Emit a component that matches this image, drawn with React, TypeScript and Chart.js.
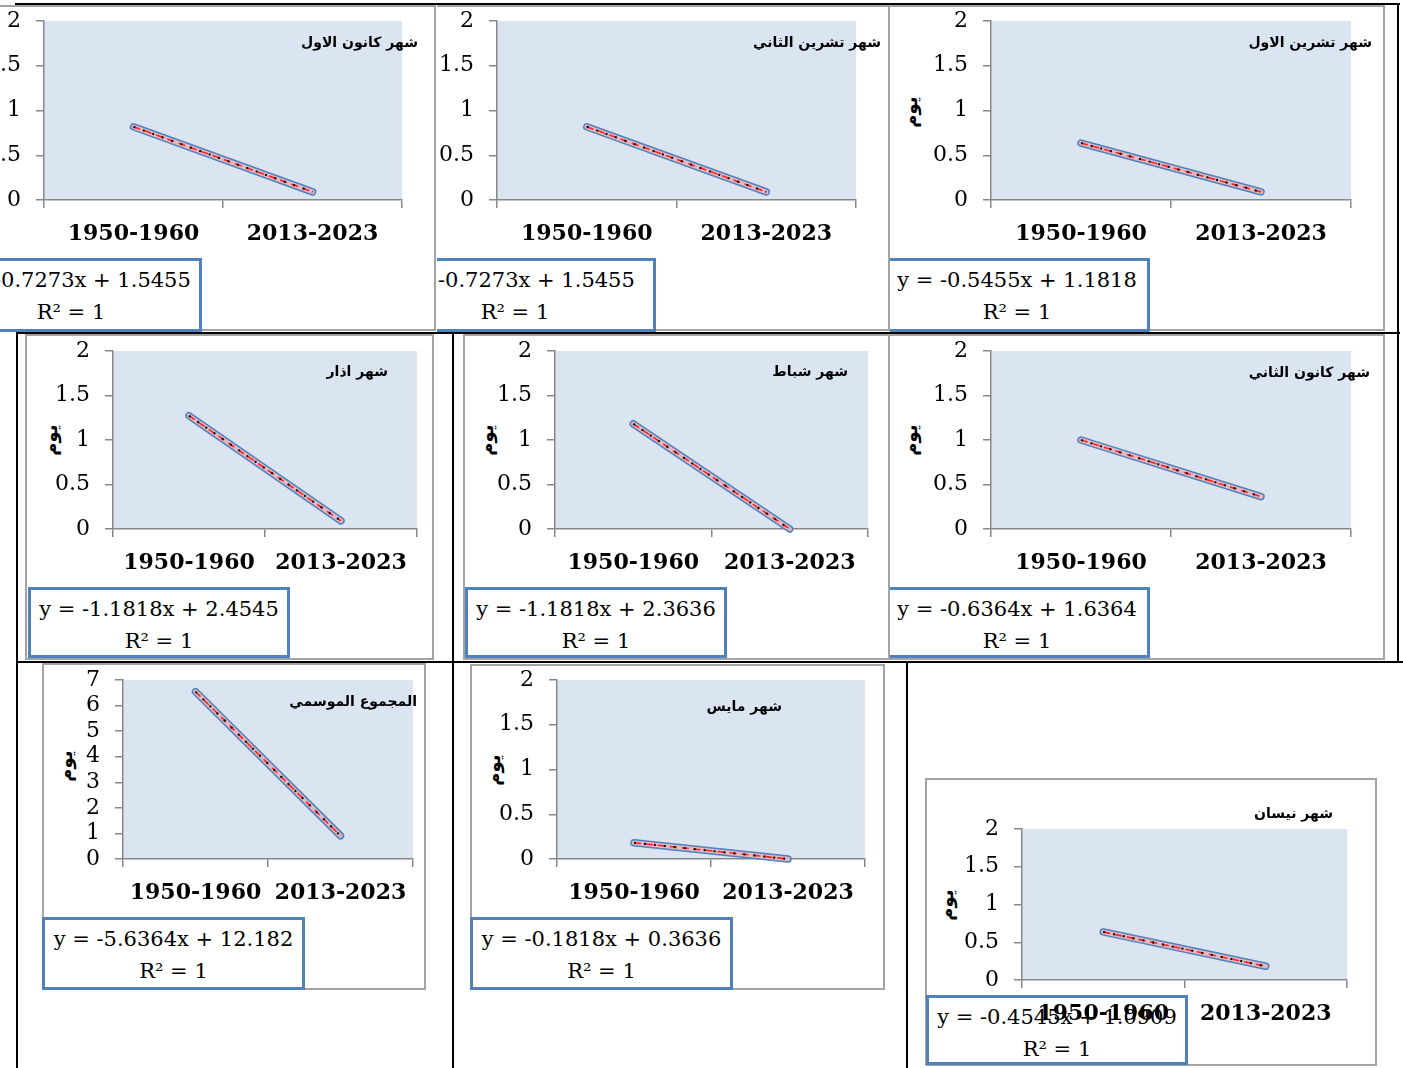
import React, { useEffect, useRef } from 'react';
import { Chart, registerables } from 'chart.js';

Chart.register(...registerables);

// ---------- data ----------
const CATEGORIES = ['1950-1960', '2013-2023'];
const DEC_VALUES = [0.8182, 0.0909];
const NOV_VALUES = [0.8182, 0.0909];
const OCT_VALUES = [0.6363, 0.0908];
const MAR_VALUES = [1.2727, 0.0909];
const FEB_VALUES = [1.1818, 0.0];
const JAN_VALUES = [1.0, 0.3636];
const SEASON_VALUES = [6.5456, 0.9092];
const MAY_VALUES = [0.1818, 0.0];
const APR_VALUES = [0.6364, 0.1819];

const Y_MONTH_TICKS = [0, 0.5, 1, 1.5, 2];
const Y_SEASON_TICKS = [0, 1, 2, 3, 4, 5, 6, 7];

const Y_LABEL = 'يوم';

// ---------- layout (page coords) ----------
type Box = [number, number, number, number];
interface Cfg {
  values: number[];
  yTicks: number[];
  title: string;
  eq: string;
  clip: Box; // x, y, w, h
  frame: Box; // l, t, r, b
  plot: Box; // l, t, r, b
  eqBox: Box; // l, t, r, b
  titleAt: [number, number];
  yLabelAt: [number, number] | null;
}

const CHARTS: Cfg[] = [
  { values: DEC_VALUES, yTicks: Y_MONTH_TICKS, title: 'شهر كانون الاول', eq: 'y = -0.7273x + 1.5455',
    clip: [0, 4, 437, 328], frame: [-60, 5, 436, 331], plot: [44, 21, 402, 200], eqBox: [-60, 258, 202, 332], titleAt: [418, 42], yLabelAt: null },
  { values: NOV_VALUES, yTicks: Y_MONTH_TICKS, title: 'شهر تشرين الثاني', eq: 'y = -0.7273x + 1.5455',
    clip: [437, 4, 454, 328], frame: [380, 5, 890, 331], plot: [497, 21, 856, 200], eqBox: [374, 258, 656, 332], titleAt: [881, 42], yLabelAt: null },
  { values: OCT_VALUES, yTicks: Y_MONTH_TICKS, title: 'شهر تشرين الاول', eq: 'y = -0.5455x + 1.1818',
    clip: [890, 4, 508, 328], frame: [884, 5, 1385, 331], plot: [991, 21, 1351, 200], eqBox: [884, 258, 1150, 332], titleAt: [1372, 42], yLabelAt: [911, 112] },
  { values: MAR_VALUES, yTicks: Y_MONTH_TICKS, title: 'شهر اذار', eq: 'y = -1.1818x + 2.4545',
    clip: [18, 333, 435, 329], frame: [25, 334, 434, 660], plot: [113, 351, 417, 529], eqBox: [28, 587, 290, 658], titleAt: [388, 371], yLabelAt: [51, 440] },
  { values: FEB_VALUES, yTicks: Y_MONTH_TICKS, title: 'شهر شباط', eq: 'y = -1.1818x + 2.3636',
    clip: [454, 333, 436, 329], frame: [463, 334, 890, 660], plot: [555, 351, 868, 529], eqBox: [465, 587, 727, 658], titleAt: [848, 371], yLabelAt: [487, 440] },
  { values: JAN_VALUES, yTicks: Y_MONTH_TICKS, title: 'شهر كانون الثاني', eq: 'y = -0.6364x + 1.6364',
    clip: [890, 333, 508, 329], frame: [884, 334, 1385, 660], plot: [991, 351, 1351, 529], eqBox: [884, 587, 1150, 658], titleAt: [1370, 372], yLabelAt: [911, 440] },
  { values: SEASON_VALUES, yTicks: Y_SEASON_TICKS, title: 'المجموع الموسمي', eq: 'y = -5.6364x + 12.182',
    clip: [18, 663, 435, 405], frame: [42, 663, 426, 990], plot: [123, 680, 413, 859], eqBox: [42, 917, 305, 990], titleAt: [417, 701], yLabelAt: [66, 766] },
  { values: MAY_VALUES, yTicks: Y_MONTH_TICKS, title: 'شهر مايس', eq: 'y = -0.1818x + 0.3636',
    clip: [454, 663, 453, 405], frame: [470, 664, 885, 990], plot: [557, 680, 865, 859], eqBox: [470, 917, 733, 990], titleAt: [782, 706], yLabelAt: [494, 770] },
  { values: APR_VALUES, yTicks: Y_MONTH_TICKS, title: 'شهر نيسان', eq: 'y = -0.4545x + 1.0909',
    clip: [908, 663, 495, 405], frame: [925, 778, 1377, 1066], plot: [1022, 829, 1347, 980], eqBox: [926, 995, 1188, 1065], titleAt: [1333, 813], yLabelAt: [947, 905] },
];

// table black lines: [x, y, w, h]
const TABLE_LINES: Box[] = [
  [15, 3, 1385, 2],
  [17, 332, 1383, 2],
  [17, 661, 1386, 2],
  [16, 332, 2, 736],
  [452, 332, 2, 736],
  [906, 661, 2, 407],
  [1397, 3, 2, 660],
];

const AXIS_COLOR = '#878787';
const PLOT_BG = '#dbe5f1';
const Y_AXIS_W = 100;
const TOP_PAD = 32;
const RIGHT_PAD = 20;
const X_AXIS_H = 64;

const plotBg = {
  id: 'plotBg',
  beforeDraw(chart: any) {
    const { ctx, chartArea: a } = chart;
    ctx.save();
    ctx.fillStyle = PLOT_BG;
    ctx.fillRect(a.left, a.top, a.right - a.left, a.bottom - a.top);
    ctx.restore();
  },
};

function MiniChart({ cfg }: { cfg: Cfg }) {
  const ref = useRef<HTMLCanvasElement | null>(null);
  const [pl, pt, pr, pb] = cfg.plot;
  const cw = pr - pl + Y_AXIS_W + RIGHT_PAD;
  const ch = pb - pt + TOP_PAD + X_AXIS_H;

  useEffect(() => {
    if (!ref.current) return;
    const v = cfg.values;
    const ticks = cfg.yTicks;
    const line = (color: string, width: number, dash: number[], cap: string) => ({
      data: v,
      borderColor: color,
      borderWidth: width,
      borderDash: dash,
      borderCapStyle: cap,
      pointRadius: 0,
      fill: false,
      clip: false as any,
      tension: 0,
    });
    const chart = new Chart(ref.current, {
      type: 'line',
      data: {
        labels: CATEGORIES,
        datasets: [
          line('#000000', 2, [2, 8], 'butt'),
          line('#ff2020', 1.6, [7, 5], 'butt'),
          line('#e2b9c2', 4.5, [], 'round'),
          line('#4f81bd', 7.5, [], 'round'),
        ] as any,
      },
      options: {
        animation: false,
        responsive: false,
        devicePixelRatio: 1,
        layout: { padding: { top: TOP_PAD, right: RIGHT_PAD, left: 0, bottom: 0 } },
        plugins: { legend: { display: false }, tooltip: { enabled: false }, title: { display: false } },
        scales: {
          x: {
            type: 'category',
            offset: true,
            grid: { offset: true, drawOnChartArea: false, drawTicks: true, tickLength: 8, color: AXIS_COLOR, lineWidth: 1.5 },
            border: { color: AXIS_COLOR, width: 1.5 },
            ticks: { font: { family: 'DejaVu Serif', weight: 'bold', size: 22 }, color: '#000', padding: 13, maxRotation: 0, autoSkip: false },
            afterFit: (s: any) => { s.height = X_AXIS_H; },
          },
          y: {
            min: ticks[0],
            max: ticks[ticks.length - 1],
            grid: { drawOnChartArea: false, drawTicks: true, tickLength: 8, color: AXIS_COLOR, lineWidth: 1.5 },
            border: { color: AXIS_COLOR, width: 1.5 },
            ticks: {
              font: { family: 'DejaVu Serif', size: 22, lineHeight: 1 },
              color: '#000',
              padding: 15,
              autoSkip: false,
              callback: (val: any) => String(Number(val)),
            },
            afterBuildTicks: (s: any) => { s.ticks = ticks.map((t) => ({ value: t })); },
            afterFit: (s: any) => { s.width = Y_AXIS_W; },
          },
        },
      } as any,
      plugins: [plotBg],
    });
    return () => chart.destroy();
  }, [cfg]);

  const [cx, cy, cW, cH] = cfg.clip;
  const [fl, ft, fr, fb] = cfg.frame;
  const [el, et, er, eb] = cfg.eqBox;
  return (
    <div style={{ position: 'absolute', left: cx, top: cy, width: cW, height: cH, overflow: 'hidden' }}>
      <div style={{ position: 'absolute', left: fl - cx, top: ft - cy, width: fr - fl, height: fb - ft, border: '2px solid #a3a3a3', background: '#fff', boxSizing: 'border-box' }} />
      <div style={{ position: 'absolute', left: el - cx, top: et - cy, width: er - el, height: eb - et, border: '3px solid #4f81bd', background: '#fff', boxSizing: 'border-box', fontFamily: 'DejaVu Serif', fontSize: 21, lineHeight: '32px', textAlign: 'center', paddingTop: 3, color: '#000', whiteSpace: 'nowrap' }}>
        <div>{cfg.eq}</div>
        <div>R² = 1</div>
      </div>
      <div style={{ position: 'absolute', left: cfg.titleAt[0] - 320 - cx, top: cfg.titleAt[1] - 11 - cy, width: 320, height: 22, lineHeight: '22px', textAlign: 'right', direction: 'rtl', fontFamily: 'DejaVu Sans', fontWeight: 'bold', fontSize: 14, color: '#000', whiteSpace: 'nowrap', zIndex: 2 }}>
        <span dir="rtl">{cfg.title}</span>
      </div>
      {cfg.yLabelAt && (
        <div style={{ position: 'absolute', left: cfg.yLabelAt[0] - 30 - cx, top: cfg.yLabelAt[1] - 11 - cy, width: 60, height: 22, lineHeight: '22px', textAlign: 'center', fontFamily: 'DejaVu Sans', fontWeight: 'bold', fontSize: 18, color: '#000', transform: 'rotate(-90deg)', direction: 'rtl' }}>
          {Y_LABEL}
        </div>
      )}
      <canvas ref={ref} width={cw} height={ch} style={{ position: 'absolute', left: pl - Y_AXIS_W - cx, top: pt - TOP_PAD - cy, width: cw, height: ch, zIndex: 1 }} />
    </div>
  );
}

export default function App() {
  return (
    <div style={{ position: 'absolute', left: 0, top: 0, width: 1403, height: 1068, background: '#fff', overflow: 'hidden' }}>
      {CHARTS.map((c, i) => <MiniChart key={i} cfg={c} />)}
      {TABLE_LINES.map((l, i) => (
        <div key={'l' + i} style={{ position: 'absolute', left: l[0], top: l[1], width: l[2], height: l[3], background: '#000', zIndex: 5 }} />
      ))}
    </div>
  );
}
